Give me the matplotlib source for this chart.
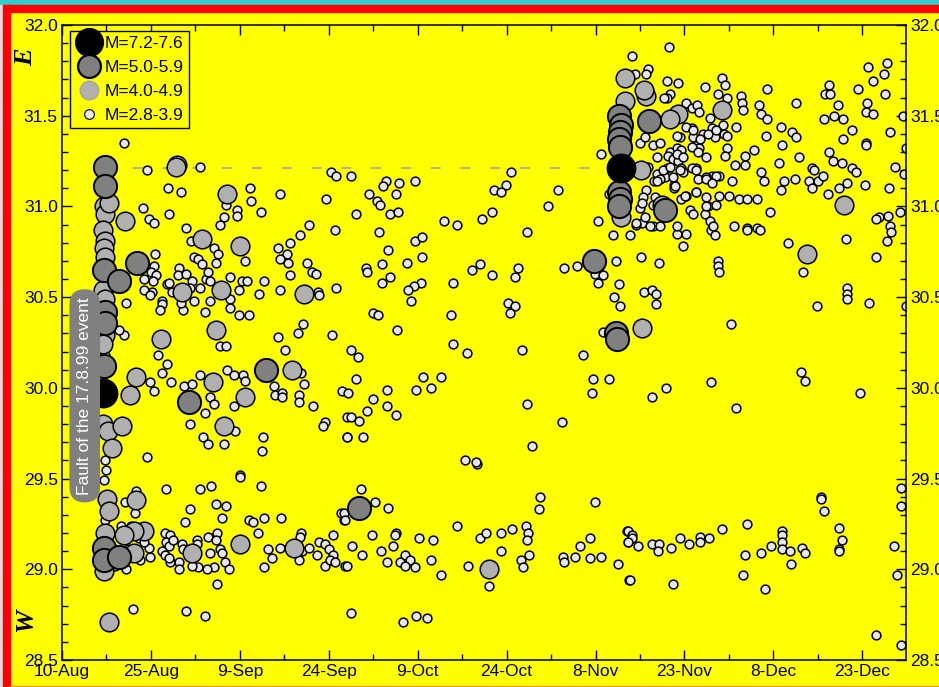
import matplotlib
matplotlib.use("Agg")
import matplotlib.pyplot as plt
from matplotlib import font_manager
from matplotlib.lines import Line2D
from matplotlib.patches import Rectangle
from matplotlib.ticker import MultipleLocator, FormatStrFormatter

# days counted from 10-Aug-1999, longitude in degrees E
xtick_days = [0, 15, 30, 45, 60, 75, 90, 105, 120, 135]
xtick_labels = ["10-Aug", "25-Aug", "9-Sep", "24-Sep", "9-Oct", "24-Oct",
                "8-Nov", "23-Nov", "8-Dec", "23-Dec"]
legend_labels = ["M=7.2-7.6", "M=5.0-5.9", "M=4.0-4.9", "M=2.8-3.9"]
mainshock_lon = 31.21

# M=7.2-7.6 (Izmit, Duzce)
big_quakes = [(7.0, 29.97), (94.3, 31.21)]

# M=5.0-5.9
strong_quakes = [
    (7.25, 31.22), (7.25, 31.11), (7.1, 30.65), (12.6, 30.69), (9.7, 30.59),
    (7.3, 30.42), (7.3, 30.36), (7.1, 30.12), (21.4, 29.92), (34.5, 30.10),
    (7.1, 29.12), (7.1, 29.05), (9.7, 29.07), (50.1, 29.34), (89.7, 30.70),
    (93.4, 30.30), (93.6, 30.27),
    (94.0, 31.50), (94.3, 31.45), (94.1, 31.41), (93.9, 31.37), (94.2, 31.33),
    (94.0, 31.08), (94.2, 31.04), (93.9, 31.00), (99.0, 31.47), (101.7, 30.98),
]

# M=4.0-4.9
moderate_quakes = [
    (19.4, 31.23), (19.2, 31.22), (10.7, 30.92), (27.8, 31.07), (23.6, 30.82),
    (30.1, 30.78), (20.2, 30.53), (26.9, 30.54), (40.9, 30.52), (25.9, 30.32),
    (16.7, 30.27), (12.5, 30.06), (11.5, 29.96), (25.5, 30.03), (30.8, 29.95),
    (38.8, 30.10), (27.3, 29.79), (6.9, 29.80), (7.7, 29.76), (8.4, 29.67),
    (10.1, 29.79), (7.6, 29.39), (7.9, 29.32), (12.5, 29.38), (13.9, 29.21),
    (12.1, 29.21), (7.2, 29.20), (10.4, 29.19), (12.1, 29.09), (21.9, 29.09),
    (30.1, 29.14), (39.1, 29.12), (7.9, 28.71), (7.1, 28.99), (72.0, 29.00),
    (7.1, 31.00), (7.3, 30.96), (7.0, 30.87), (7.2, 30.81), (7.1, 30.77),
    (7.3, 30.72), (7.0, 30.54), (7.2, 30.49), (7.2, 30.29), (7.0, 30.24),
    (8.0, 31.02),
    (97.9, 30.33), (111.4, 31.53), (94.9, 31.71), (103.9, 31.51), (102.5, 31.48),
    (98.6, 31.61), (98.1, 31.64), (97.7, 31.20), (101.2, 31.01), (95.0, 31.58),
    (94.3, 30.94), (125.7, 30.74), (132.0, 31.01),
]

# M=2.8-3.9
minor_quakes = [
    # Aug - Sep, north part
    (10.4, 31.35), (14.4, 31.20), (23.3, 31.22), (17.9, 31.10), (20.1, 31.08),
    (31.8, 31.10), (31.9, 31.03), (36.8, 31.07), (13.7, 30.99), (18.0, 30.96),
    (14.7, 30.93), (15.5, 30.91), (27.7, 31.01), (29.5, 30.98), (29.5, 30.95),
    (27.4, 30.94), (26.7, 30.90), (33.6, 30.97), (20.9, 30.88), (41.6, 30.90),
    (46.0, 30.87), (40.2, 30.84), (38.5, 30.80), (21.8, 30.81), (25.7, 30.77),
    (26.4, 30.74), (36.5, 30.77), (37.9, 30.74), (36.8, 30.71), (38.2, 30.69),
    (15.7, 30.74), (15.6, 30.67), (22.2, 30.72), (22.9, 30.71), (23.6, 30.68),
    (26.0, 30.69), (30.8, 30.70), (41.3, 30.69), (45.4, 31.19), (46.3, 31.17),
    (44.6, 31.04), (15.1, 30.64), (15.9, 30.62), (13.8, 30.60), (15.3, 30.59),
    (17.7, 30.57), (19.7, 30.66), (19.6, 30.62), (20.9, 30.63), (18.0, 30.58),
    (22.0, 30.59), (23.2, 30.55), (24.3, 30.60), (24.7, 30.64), (25.0, 30.59),
    (28.4, 30.61), (30.4, 30.59), (31.2, 30.59), (34.0, 30.59), (15.2, 30.53),
    (13.8, 30.54), (14.9, 30.51), (18.5, 30.53), (21.6, 30.55), (22.2, 30.48),
    (20.5, 30.43), (20.0, 30.47), (16.9, 30.48), (16.8, 30.46), (16.6, 30.43),
    (24.1, 30.42), (25.0, 30.48), (28.4, 30.49), (28.4, 30.44), (29.8, 30.40),
    (31.5, 30.40), (29.8, 30.54), (33.2, 30.52), (36.8, 30.54), (38.5, 30.62),
    (42.2, 30.64), (42.8, 30.63), (43.2, 30.53), (43.3, 30.51), (46.3, 30.55),
    (40.6, 30.35), (39.8, 30.30), (36.4, 30.28), (45.6, 30.29), (10.8, 30.47),
    (10.4, 30.29), (9.6, 30.32),
    # Sep - Nov, north part
    (90.9, 31.29), (48.8, 31.17), (54.6, 31.14), (54.2, 31.11), (56.9, 31.13),
    (59.6, 31.14), (51.8, 31.07), (53.2, 31.03), (53.6, 31.01), (56.3, 31.07),
    (49.6, 30.96), (55.3, 30.96), (56.7, 30.97), (75.8, 31.19), (74.9, 31.12),
    (72.9, 31.09), (74.0, 31.08), (83.7, 31.09), (82.0, 31.00), (72.5, 30.97),
    (70.9, 30.93), (64.5, 30.92), (66.7, 30.90), (78.4, 30.86), (53.5, 30.86),
    (59.5, 30.81), (60.8, 30.83), (55.0, 30.76), (60.7, 30.72), (58.2, 30.69),
    (54.0, 30.68), (51.3, 30.66), (51.4, 30.64), (55.4, 30.61), (54.0, 30.58),
    (60.6, 30.58), (59.4, 30.56), (58.4, 30.54), (58.9, 30.48), (65.9, 30.58),
    (69.1, 30.65), (70.6, 30.68), (72.6, 30.62), (77.0, 30.66), (76.4, 30.61),
    (75.2, 30.47), (76.4, 30.45), (75.6, 30.41), (84.7, 30.66), (86.8, 30.67),
    (90.4, 30.92), (93.0, 30.84), (93.5, 30.70), (94.0, 30.57), (93.1, 30.50),
    (94.1, 30.45), (89.9, 30.63), (91.3, 30.62), (90.4, 30.58), (52.4, 30.41),
    (53.3, 30.40), (65.7, 30.40), (56.5, 30.32), (92.3, 31.07), (91.3, 30.31),
    # Nov - Dec, north part
    (102.4, 31.88), (96.2, 31.83), (98.8, 31.76), (98.6, 31.73), (96.6, 31.73),
    (102.0, 31.69), (103.9, 31.68), (108.4, 31.66), (111.4, 31.71), (111.9, 31.67),
    (110.6, 31.62), (112.1, 31.60), (114.6, 31.61), (114.7, 31.57), (114.8, 31.53),
    (118.9, 31.65), (117.6, 31.56), (118.0, 31.51), (118.9, 31.48), (123.8, 31.57),
    (121.3, 31.44), (123.1, 31.41), (123.9, 31.38), (121.5, 31.34), (118.7, 31.39),
    (116.8, 31.31), (115.2, 31.28), (113.7, 31.44), (111.5, 31.45), (109.7, 31.43),
    (109.3, 31.49), (111.6, 31.40), (112.1, 31.39), (110.1, 31.38), (108.2, 31.40),
    (107.1, 31.34), (107.5, 31.32), (106.4, 31.38), (106.2, 31.43), (105.3, 31.44),
    (104.2, 31.38), (102.5, 31.62), (102.0, 31.60), (101.5, 31.60), (105.3, 31.57),
    (106.2, 31.54), (107.2, 31.56), (107.4, 31.52), (102.5, 31.30), (103.8, 31.32),
    (104.5, 31.31), (102.3, 31.28), (103.1, 31.26), (103.9, 31.25), (108.7, 31.27),
    (112.1, 31.32), (111.8, 31.28), (113.5, 31.23), (115.2, 31.23), (117.9, 31.19),
    (118.4, 31.14), (120.9, 31.24), (121.8, 31.14), (123.7, 31.15), (124.3, 31.27),
    (126.6, 31.21), (126.9, 31.20), (126.0, 31.14), (126.6, 31.10), (127.5, 31.14),
    (128.4, 31.17), (121.3, 31.09), (129.2, 31.07), (131.0, 31.10), (132.4, 31.13),
    (130.1, 31.25), (131.5, 31.24), (133.3, 31.21), (133.9, 31.19), (135.5, 31.12),
    (129.4, 31.30), (131.8, 31.37), (133.3, 31.42), (128.6, 31.48), (130.2, 31.50),
    (131.8, 31.48), (130.9, 31.56), (128.7, 31.62), (129.5, 31.62), (129.4, 31.67),
    (134.3, 31.65), (135.8, 31.57), (135.6, 31.52), (136.8, 31.51), (135.9, 31.77),
    (136.8, 31.69), (138.7, 31.73), (139.1, 31.79), (138.8, 31.62), (141.8, 31.50),
    (139.7, 31.41), (135.7, 31.35), (135.7, 31.34), (142.3, 31.32), (140.6, 31.22),
    (142.0, 31.18), (139.5, 31.10), (141.4, 30.97), (139.3, 30.95), (137.8, 30.94),
    (137.3, 30.93), (139.7, 30.89), (139.9, 30.86), (139.2, 30.81), (132.3, 30.82),
    (137.4, 30.72), (122.5, 30.80), (119.4, 30.97), (112.6, 31.06), (114.2, 31.04),
    (115.6, 31.04), (117.3, 31.04), (113.4, 30.89), (115.5, 30.88), (115.5, 30.87),
    (117.3, 30.88), (117.7, 30.87), (109.4, 30.87), (110.2, 30.84), (108.9, 31.00),
    (108.5, 30.96), (105.9, 30.98), (106.4, 30.96), (104.8, 30.78), (103.8, 30.85),
    (107.0, 31.08), (105.3, 31.06), (104.5, 31.04), (103.3, 31.12), (103.3, 31.10),
    (101.3, 31.19), (102.0, 31.21), (100.4, 31.18), (99.9, 31.14), (107.0, 31.21),
    (107.3, 31.15), (104.5, 31.21), (104.8, 31.19), (101.7, 31.16), (100.8, 31.15),
    (97.8, 30.91), (96.9, 30.90), (99.7, 30.89), (95.8, 30.84), (100.7, 30.69),
    (97.6, 30.72), (110.6, 30.70), (110.7, 30.67), (110.8, 30.64), (125.0, 30.64),
    (98.2, 30.53), (99.6, 30.54), (100.2, 30.52), (100.2, 30.46), (127.4, 30.45),
    (132.5, 30.55), (132.5, 30.52), (132.5, 30.49), (136.1, 30.47), (142.4, 30.45),
    (112.8, 30.35), (109.6, 31.17), (110.9, 31.17), (113.0, 31.14), (108.6, 31.16),
    # Duzce swarm
    (97.5, 31.35), (98.3, 31.38), (99.7, 31.34), (100.8, 31.35), (103.7, 31.39),
    (106.5, 31.42), (107.6, 31.37), (106.2, 31.33), (107.3, 31.30), (109.0, 31.40),
    (110.4, 31.42), (98.9, 31.22), (100.3, 31.27), (101.4, 31.20), (102.5, 31.22),
    (103.1, 31.16), (103.7, 31.29), (104.8, 31.27), (104.2, 31.20), (106.2, 31.21),
    (107.0, 31.20), (108.7, 31.15), (110.4, 31.17), (109.6, 31.13), (100.3, 31.14),
    (98.6, 31.09), (98.0, 31.05), (100.0, 31.05), (103.4, 31.11), (105.1, 31.06),
    (107.0, 31.08), (108.7, 31.05), (110.9, 31.06), (110.4, 31.01), (108.7, 31.00),
    (97.5, 30.99), (98.3, 30.94), (99.2, 30.89), (100.8, 30.89), (103.7, 30.89),
    (105.3, 30.85), (109.3, 30.92), (109.8, 30.89), (99.7, 31.01), (96.9, 30.91),
    (97.8, 31.02),
    # Izmit rupture column
    (7.3, 31.04), (7.0, 30.93), (7.5, 30.79), (7.2, 30.70), (7.0, 30.57),
    (7.4, 30.46), (7.1, 30.37), (7.3, 30.18), (7.2, 29.60), (7.5, 29.55),
    (7.1, 29.49), (7.3, 29.27), (7.0, 29.16), (7.4, 29.08), (7.2, 29.02),
    (7.0, 28.97), (12.0, 29.21), (13.0, 29.17), (14.6, 29.12), (9.0, 29.02),
    (10.8, 29.00), (12.8, 29.08), (11.6, 29.24), (11.2, 29.11), (13.2, 29.05),
    # Aug - Sep, south part
    (16.2, 30.18), (17.7, 30.13), (16.9, 30.08), (18.4, 30.03), (14.9, 30.03),
    (15.6, 29.98), (23.2, 30.07), (20.6, 30.01), (21.9, 30.02), (25.0, 29.95),
    (25.7, 29.91), (24.2, 29.86), (21.6, 29.80), (23.8, 29.73), (24.7, 29.69),
    (27.4, 29.69), (29.2, 29.76), (29.1, 29.90), (27.8, 30.10), (29.1, 30.07),
    (30.6, 30.07), (30.8, 30.04), (35.7, 30.01), (36.0, 29.96), (37.2, 29.97),
    (37.1, 29.95), (39.9, 29.96), (40.0, 29.92), (40.8, 30.02), (40.4, 30.08),
    (42.4, 29.90), (44.3, 29.81), (44.1, 29.79), (47.2, 29.98), (48.1, 29.84),
    (48.1, 29.73), (33.9, 29.73), (33.7, 29.65), (33.6, 29.46), (30.1, 29.52),
    (30.1, 29.51), (25.1, 29.46), (23.2, 29.44), (17.6, 29.44), (14.3, 29.62),
    (10.7, 29.37), (12.3, 29.31), (21.6, 29.33), (26.0, 29.36), (27.7, 29.35),
    (27.0, 29.28), (20.7, 29.26), (10.0, 29.24), (12.5, 29.43), (37.0, 29.28),
    (34.0, 29.28), (31.5, 29.27), (32.3, 29.26), (33.1, 29.20), (17.3, 29.20),
    (18.3, 29.19), (17.5, 29.15), (18.1, 29.13), (18.7, 29.16), (16.8, 29.10),
    (17.4, 29.08), (14.9, 29.07), (13.8, 29.15), (20.3, 29.14), (20.5, 29.11),
    (22.8, 29.16), (22.8, 29.14), (24.7, 29.18), (26.1, 29.20), (25.9, 29.16),
    (25.0, 29.09), (26.7, 29.11), (27.0, 29.09), (27.5, 29.04), (28.1, 29.00),
    (25.6, 29.01), (24.5, 29.00), (22.9, 29.01), (21.9, 29.02), (19.7, 29.04),
    (19.8, 29.00), (18.3, 29.04), (18.0, 29.06), (34.7, 29.11), (34.1, 29.01),
    (35.5, 29.06), (36.8, 29.12), (39.9, 29.05), (40.5, 29.10), (41.6, 29.12),
    (40.4, 29.20), (40.2, 29.18), (43.0, 29.08), (43.3, 29.15), (44.4, 29.14),
    (45.0, 29.11), (44.4, 29.02), (45.8, 29.08), (45.8, 29.19), (45.2, 29.05),
    (46.1, 29.04), (47.8, 29.02), (47.1, 29.31), (47.5, 29.27), (26.1, 28.92),
    (11.9, 28.78), (21.0, 28.77), (24.2, 28.74), (37.7, 30.21), (26.7, 30.23),
    (27.7, 30.23),
    # Sep - Nov, south part
    (48.8, 30.21), (50.0, 30.17), (49.6, 30.05), (48.3, 29.97), (52.4, 29.94),
    (54.9, 29.99), (54.8, 29.90), (56.3, 29.85), (51.4, 29.87), (48.7, 29.84),
    (50.1, 29.82), (48.0, 29.73), (50.7, 29.73), (60.9, 30.06), (63.9, 30.06),
    (59.8, 29.99), (62.3, 30.00), (65.9, 30.24), (68.4, 30.19), (77.6, 30.21),
    (87.9, 30.18), (89.5, 30.05), (92.2, 30.05), (89.4, 29.97), (78.5, 29.91),
    (84.3, 29.81), (79.3, 29.68), (68.0, 29.60), (70.0, 29.58), (69.9, 29.59),
    (50.5, 29.44), (52.8, 29.37), (55.0, 29.34), (47.6, 29.31), (47.7, 29.27),
    (52.3, 29.19), (56.4, 29.20), (56.2, 29.19), (49.0, 29.13), (50.6, 29.08),
    (53.9, 29.10), (55.8, 29.13), (54.9, 29.04), (48.1, 29.02), (57.8, 29.08),
    (58.7, 29.05), (57.0, 29.04), (57.8, 29.02), (59.5, 29.01), (60.2, 29.17),
    (62.6, 29.16), (62.2, 29.05), (63.9, 28.97), (66.7, 29.24), (68.5, 29.02),
    (70.6, 29.17), (71.5, 29.20), (74.1, 29.20), (75.9, 29.22), (74.1, 29.10),
    (78.2, 29.24), (78.6, 29.20), (78.5, 29.16), (78.7, 29.08), (77.5, 29.05),
    (77.7, 29.01), (72.1, 28.91), (80.6, 29.40), (80.5, 29.33), (89.9, 29.37),
    (89.0, 29.17), (87.4, 29.13), (84.5, 29.07), (84.7, 29.04), (86.5, 29.07),
    (89.0, 29.06), (91.0, 29.07), (93.8, 29.03), (95.3, 29.21), (95.5, 29.15),
    (95.7, 28.94), (48.7, 28.76), (57.6, 28.71), (59.8, 28.74), (61.6, 28.73),
    # Nov - Dec, south part
    (99.5, 29.95), (101.9, 30.00), (109.4, 30.03), (113.7, 29.89), (124.6, 30.09),
    (125.3, 30.04), (134.7, 29.97), (128.0, 29.40), (128.0, 29.39), (128.5, 29.32),
    (141.6, 29.45), (141.6, 29.35), (95.5, 29.21), (96.1, 29.19), (96.1, 29.17),
    (95.5, 29.15), (97.2, 29.13), (99.5, 29.14), (100.7, 29.14), (100.6, 29.10),
    (102.8, 29.12), (104.2, 29.17), (105.8, 29.14), (107.7, 29.18), (107.7, 29.15),
    (109.2, 29.17), (111.4, 29.22), (115.5, 29.25), (115.3, 29.08), (118.0, 29.09),
    (119.6, 29.13), (121.5, 29.21), (121.5, 29.19), (121.5, 29.15), (121.5, 29.11),
    (122.8, 29.10), (122.9, 29.03), (124.9, 29.12), (125.4, 29.09), (131.1, 29.23),
    (131.6, 29.16), (131.0, 29.11), (131.0, 29.10), (140.3, 29.13), (140.9, 28.97),
    (95.9, 28.94), (103.0, 28.92), (114.9, 28.97), (118.6, 28.89), (137.4, 28.64),
    (141.5, 28.58),
]

names = {f.name for f in font_manager.fontManager.ttflist}
narrow = "Liberation Sans Narrow" if "Liberation Sans Narrow" in names else "Liberation Sans"
plt.rcParams["font.family"] = [narrow, "DejaVu Sans"]

YELLOW = "#ffff00"
fig = plt.figure(figsize=(9.39, 6.87), dpi=100, facecolor=YELLOW)
ax = fig.add_axes([0.066, 0.0393, 0.899, 0.9243], facecolor=YELLOW)

# frame decorations of the page
fig.patches.append(Rectangle((0, 1 - 5 / 687), 1, 5 / 687, transform=fig.transFigure,
                             color="#33cccc", zorder=1))
fig.patches.append(Rectangle((0, 1 - 12 / 687), 1, 7 / 687, transform=fig.transFigure,
                             color="#ff0000", zorder=1))
fig.patches.append(Rectangle((0, 0), 3 / 939, 1 - 5 / 687, transform=fig.transFigure,
                             color="#dcdcdc", zorder=1))
fig.patches.append(Rectangle((3 / 939, 0), 7 / 939, 1 - 5 / 687, transform=fig.transFigure,
                             color="#ff0000", zorder=1))
fig.patches.append(Rectangle((10 / 939, 0), 1, 1.5 / 687, transform=fig.transFigure,
                             color="#ff9900", zorder=1))


def scatter(points, size, face, edge, lw, z):
    xs = [p[0] for p in points]
    ys = [p[1] for p in points]
    ax.scatter(xs, ys, s=size, c=face, edgecolors=edge, linewidths=lw, zorder=z)


ax.plot([big_quakes[0][0], big_quakes[1][0]], [mainshock_lon, mainshock_lon],
        color="#a0a0a0", lw=1.1, dashes=(6.5, 13), zorder=1)

scatter(minor_quakes, 40, "#e6e6ec", "black", 1.1, 2)
scatter(moderate_quakes, 180, "#b0b0b0", "black", 1.1, 3)
scatter(strong_quakes, 280, "#808080", "black", 1.4, 4)
scatter(big_quakes, 420, "black", "black", 1.0, 5)

ax.set_xlim(0, 142.4)
ax.set_ylim(28.5, 32.0)
ax.set_xticks(xtick_days)
ax.set_xticklabels(xtick_labels)
ax.xaxis.set_minor_locator(MultipleLocator(7.5))
ax.yaxis.set_major_locator(MultipleLocator(0.5))
ax.yaxis.set_minor_locator(MultipleLocator(0.1))
ax.yaxis.set_major_formatter(FormatStrFormatter("%.1f"))
ax.tick_params(which="both", direction="in", top=True, right=True,
               labelright=True, labelsize=12.5, width=1.0, colors="black")
ax.tick_params(which="major", length=7, pad=3)
ax.tick_params(which="minor", length=4)
for sp in ax.spines.values():
    sp.set_linewidth(1.1)

# legend
handles = [
    Line2D([], [], ls="none", marker="o", ms=20, mfc="black", mec="black"),
    Line2D([], [], ls="none", marker="o", ms=16.5, mfc="#808080", mec="black", mew=1.6),
    Line2D([], [], ls="none", marker="o", ms=13.5, mfc="#b0b0b0", mec="#a0a0a0", mew=0.8),
    Line2D([], [], ls="none", marker="o", ms=7, mfc="#e6e6ec", mec="black", mew=0.8),
]
leg = ax.legend(handles, legend_labels, loc="upper left", bbox_to_anchor=(0.0095, 0.9906),
                borderaxespad=0, fontsize=12.5, frameon=True, fancybox=False,
                edgecolor="black", facecolor=YELLOW, framealpha=1,
                handletextpad=0.1, labelspacing=0.5, borderpad=0.3, handlelength=1.6)
leg.get_frame().set_linewidth(1.0)
leg.set_zorder(10)

ax.text(0.027, 0.416, "Fault of the 17.8.99 event", transform=ax.transAxes,
        rotation=90, ha="center", va="center", color="white", fontsize=12.5, zorder=6,
        bbox=dict(boxstyle="round,pad=0.45,rounding_size=0.9", fc="#808080", ec="none"))

fig.text(26 / 939, 1 - 57 / 687, "E", rotation=90, ha="center", va="center",
         fontsize=19, fontweight="bold", fontstyle="italic", family="Liberation Serif")
fig.text(26 / 939, 1 - 620 / 687, "W", rotation=90, ha="center", va="center",
         fontsize=19, fontweight="bold", fontstyle="italic", family="Liberation Serif")

fig.savefig("out.png", dpi=100, facecolor=YELLOW)
